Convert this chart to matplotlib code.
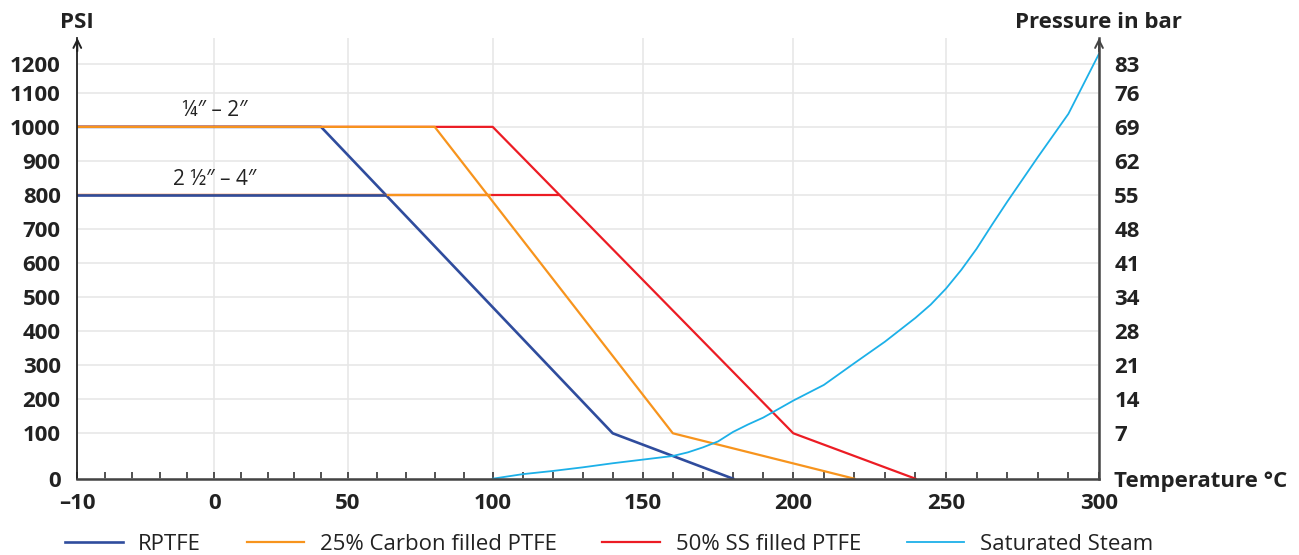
import numpy as np
import matplotlib
matplotlib.use("Agg")
from matplotlib import pyplot as plt

plt.rcParams["font.family"] = ["Open Sans", "DejaVu Sans"]

# pressure / temperature data
rptfe_t = [-10, 40, 140, 180]
rptfe_psi = [1000, 1000, 100, 0]
carbon_t = [-10, 80, 160, 220]
carbon_psi = [1000, 1000, 100, 0]
ss_t = [-10, 100, 200, 240]
ss_psi = [1000, 1000, 100, 0]

# 2 1/2" - 4" sizes: flat 800 psi until meeting the diagonal
large_t_start = [-10, -10, -10]
large_t_end = [63, 99, 122]
large_psi = 800

steam_t = [100, 110, 120, 130, 140, 150, 160, 165, 170, 175, 180, 185, 190, 200,
           210, 220, 230, 240, 245, 250, 255, 260, 265, 270, 280, 290, 300]
steam_psi = [0, 10, 17, 25, 34, 42, 50, 58, 69, 82, 104, 126, 146, 196,
             242, 306, 369, 439, 478, 525, 580, 642, 712, 780, 911, 1038, 1235]

x_ticks = [-10, 0, 50, 100, 150, 200, 250, 300]
x_labels = ["–10", "0", "50", "100", "150", "200", "250", "300"]
x_minor = [-8, -6, -4, -2, 10, 20, 30, 40, 60, 70, 80, 90, 110, 120, 130, 140,
           160, 170, 180, 190, 210, 220, 230, 240, 260, 270, 280, 290]
psi_ticks = [0, 100, 200, 300, 400, 500, 600, 700, 800, 900, 1000, 1100, 1200]
bar_labels = ["Temperature °C", "7", "14", "21", "28", "34", "41", "48", "55",
              "62", "69", "76", "83"]

# the original axes are not evenly spaced: piecewise-linear scales
x_knots = np.array([-10, 0, 50, 100, 150, 200, 250, 300])
x_pos = np.array([0, 137, 270.4, 415.4, 565.4, 716, 868.7, 1021.7])
y_knots = np.array([0, 100, 1000, 1100, 1200, 1300])
y_pos = np.array([0, 45.4, 351.7, 386, 414.7, 443.4])


def interp_ext(v, xp, fp):
    v = np.asarray(v, dtype=float)
    out = np.interp(v, xp, fp)
    lo = v < xp[0]
    hi = v > xp[-1]
    out = np.where(lo, fp[0] + (v - xp[0]) * (fp[1] - fp[0]) / (xp[1] - xp[0]), out)
    out = np.where(hi, fp[-1] + (v - xp[-1]) * (fp[-1] - fp[-2]) / (xp[-1] - xp[-2]), out)
    return out


fig = plt.figure(figsize=(12.99, 5.55), dpi=100)
ax = fig.add_axes([77.3 / 1299, 76.3 / 555, (1099 - 77.3) / 1299, (478.7 - 38) / 555])

ax.set_xscale("function", functions=(lambda v: interp_ext(v, x_knots, x_pos),
                                     lambda p: interp_ext(p, x_pos, x_knots)))
ax.set_yscale("function", functions=(lambda v: interp_ext(v, y_knots, y_pos),
                                     lambda p: interp_ext(p, y_pos, y_knots)))

blue = "#2f4c9d"
orange = "#f7941d"
red = "#ec1c24"
cyan = "#1cb0e8"
colors = [red, orange, blue]
ends = [large_t_end[2], large_t_end[1], large_t_end[0]]
starts = [large_t_start[2], large_t_start[1], large_t_start[0]]

l1, = ax.plot(rptfe_t, rptfe_psi, color=blue, lw=1.9, label="RPTFE")
l3, = ax.plot(ss_t, ss_psi, color=red, lw=1.6, label="50% SS filled PTFE")
l2, = ax.plot(carbon_t, carbon_psi, color=orange, lw=1.6, label="25% Carbon filled PTFE")
for s, e, c in zip(starts, ends, colors):
    ax.plot([s, e], [large_psi, large_psi], color=c, lw=1.9 if c == blue else 1.6)
l4, = ax.plot(steam_t, steam_psi, color=cyan, lw=1.3, label="Saturated Steam")

ax.set_xlim(-10, 300)
ax.set_ylim(0, 1290)

ax.set_xticks(x_ticks)
ax.set_xticklabels(x_labels)
ax.set_xticks(x_minor, minor=True)
ax.set_yticks(psi_ticks)
ax.tick_params(axis="x", which="both", direction="in", length=5, width=1.2,
               color="#333333", labelsize=16, pad=10, labelcolor="#222222")
ax.tick_params(axis="y", length=0, labelsize=16, pad=12, labelcolor="#222222")
for lab in ax.get_xticklabels() + ax.get_yticklabels():
    lab.set_fontweight("bold")

ax.grid(True, which="major", color="#e6e6e6", lw=1.1)
ax.set_axisbelow(True)

ax.spines["top"].set_visible(False)
ax.spines["left"].set_color("#222222")
ax.spines["left"].set_linewidth(1.3)
ax.spines["right"].set_color("#444444")
ax.spines["right"].set_linewidth(1.8)
ax.spines["bottom"].set_color("#444444")
ax.spines["bottom"].set_linewidth(1.8)

# right axis in bar
ax2 = ax.twinx()
ax2.set_yscale("function", functions=(lambda v: interp_ext(v, y_knots, y_pos),
                                      lambda p: interp_ext(p, y_pos, y_knots)))
ax2.set_ylim(ax.get_ylim())
ax2.set_yticks(psi_ticks)
ax2.set_yticklabels(bar_labels)
ax2.tick_params(axis="y", length=0, labelsize=16, pad=11, labelcolor="#222222")
for lab in ax2.get_yticklabels():
    lab.set_fontweight("bold")
for sp in ax2.spines.values():
    sp.set_visible(False)

# arrow heads on the vertical axes
for xa, c in [(0, "#222222"), (1, "#444444")]:
    ax.annotate("", xy=(xa, 1.0), xytext=(xa, 0.97), xycoords="axes fraction",
                arrowprops=dict(arrowstyle="->", color=c, lw=1.4,
                                mutation_scale=14, shrinkA=0, shrinkB=0),
                annotation_clip=False)

fig.text(77 / 1299, 1 - 22 / 555, "PSI", ha="center", va="center",
         fontsize=16, fontweight="bold", color="#222222")
fig.text(1098 / 1299, 1 - 22 / 555, "Pressure in bar", ha="center", va="center",
         fontsize=16, fontweight="bold", color="#222222")

ax.annotate("¼″ – 2″", xy=(0, 1000), xytext=(0, 12), textcoords="offset points",
            ha="center", va="center", fontsize=15, color="#222222")
ax.annotate("2 ½″ – 4″", xy=(0, 800), xytext=(0, 11), textcoords="offset points",
            ha="center", va="center", fontsize=15, color="#222222")

fig.legend(handles=[l1, l2, l3, l4], loc="center",
           bbox_to_anchor=(609 / 1299, 1 - 544 / 555), ncol=4, frameon=False,
           fontsize=16, handlelength=2.6, handletextpad=0.7, columnspacing=2.05,
           labelcolor="#222222")

fig.savefig("out.png", dpi=100)
